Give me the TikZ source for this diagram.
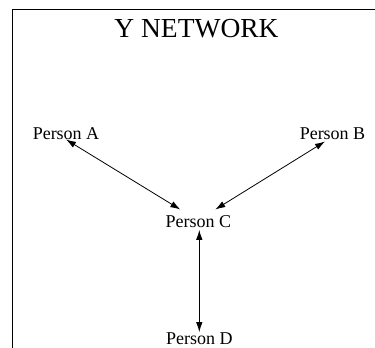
\documentclass[tikz,border=0pt]{standalone}
\usepackage{fontspec}
\setmainfont{Liberation Serif}
\usetikzlibrary{arrows.meta}

\tikzset{
  person/.style={font=\fontsize{18}{20}\selectfont, inner sep=0pt, text height=12pt, text depth=0pt, anchor=base},
  heading/.style={font=\fontsize{27.5}{30}\selectfont, inner sep=0pt, anchor=base},
  link/.style={>={Latex[length=10pt,width=6.5pt]}, <->, line width=0.8pt}
}

\begin{document}
\begin{tikzpicture}[x=1pt, y=-1pt]
    \useasboundingbox (0, 0) rectangle (375, 348);

    % Frame
    \draw [line width=1.2pt] (12.5, 348) -- (12.5, 9.5) -- (375, 9.5);

    % Title
    \node [heading] (title) at (196.5, 37.3) {Y NETWORK};

    % People
    \node [person] (a) at (66, 139.3) {Person A};
    \node [person] (b) at (332.5, 139.3) {Person B};
    \node [person] (c) at (198.3, 227.7) {Person C};
    \node [person] (d) at (199.3, 344.3) {Person D};

    % Links
    \draw [link] (a.south) -- ([shift={(-18pt, 6pt)}]c.north);
    \draw [link] ([shift={(-7.5pt, -2pt)}]b.south) -- ([shift={(17pt, 6pt)}]c.north);
    \draw [link] ([yshift=-2pt]d.north |- c.south) -- (d.north);
  \end{tikzpicture}
\end{document}
